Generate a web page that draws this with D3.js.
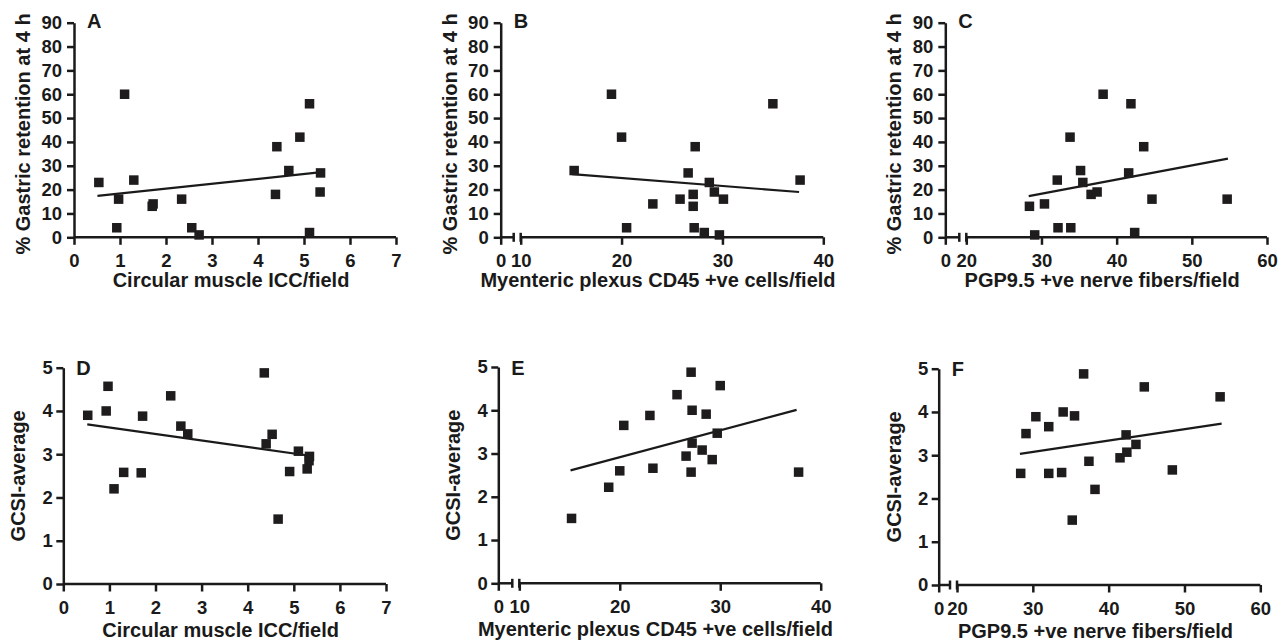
<!DOCTYPE html>
<html>
<head>
<meta charset="utf-8">
<script src="https://cdn.jsdelivr.net/npm/d3@7"></script>
<style>
  body { margin: 0; background: #fff; }
  svg { display: block; }
  text { font-family: "Liberation Sans", Arial, sans-serif; font-weight: bold; fill: #1a1a1a; }
  .axis text { font-size: 18.5px; }
  .axis path, .axis line { stroke: #1a1a1a; stroke-width: 2.5; }
</style>
</head>
<body>
<svg id="chart" width="1287" height="641"></svg>
<script>
// tick labels
const iccTicks = [0, 1, 2, 3, 4, 5, 6, 7];
const cd45Ticks = [0, 10, 20, 30, 40];
const pgpTicks = [0, 20, 30, 40, 50, 60];
const retentionTicks = [0, 10, 20, 30, 40, 50, 60, 70, 80, 90];
const gcsiTicks = [0, 1, 2, 3, 4, 5];

// A: circular muscle ICC/field vs % gastric retention at 4 h
const retentionVsIcc = [
  [0.54, 23], [1.1, 60], [0.97, 16], [0.93, 4], [1.3, 24], [1.72, 14], [1.70, 13],
  [2.34, 16], [2.56, 4], [2.72, 1], [4.41, 38], [4.38, 18], [4.67, 28], [4.91, 42],
  [5.12, 56], [5.12, 2], [5.36, 27], [5.35, 19]
];
const fitA = [[0.51, 17.4], [5.43, 27.4]];

// B: myenteric plexus CD45 +ve cells/field vs retention
const retentionVsCd45 = [
  [15.3, 28], [19.0, 60], [20.0, 42], [20.5, 4], [23.1, 14], [25.8, 16], [26.6, 27],
  [27.3, 38], [27.1, 18], [27.1, 13], [27.2, 4], [28.2, 2], [28.7, 23], [29.2, 19],
  [29.7, 1], [30.1, 16], [35.0, 56], [37.7, 24]
];
const fitB = [[15.1, 26.5], [37.6, 19]];

// C: PGP9.5 +ve nerve fibers/field vs retention
const retentionVsPgp = [
  [28.4, 13], [29.1, 1], [30.4, 14], [32.1, 24], [32.2, 4], [33.9, 4], [33.8, 42],
  [35.2, 28], [35.5, 23], [36.6, 18], [37.4, 19], [38.2, 60], [41.6, 27], [41.9, 56],
  [42.4, 2], [43.6, 38], [44.7, 16], [54.7, 16]
];
const fitC = [[28.3, 17.3], [54.8, 33]];

// D: circular muscle ICC/field vs GCSI
const gcsiVsIcc = [
  [0.53, 3.9], [0.93, 4.0], [0.97, 4.57], [1.1, 2.2], [1.31, 2.58], [1.72, 3.88],
  [1.69, 2.57], [2.33, 4.35], [2.55, 3.65], [2.7, 3.47], [4.36, 4.88], [4.4, 3.24],
  [4.53, 3.46], [4.66, 1.5], [4.91, 2.6], [5.1, 3.07], [5.29, 2.66], [5.34, 2.95],
  [5.33, 2.85]
];
const fitD = [[0.52, 3.69], [5.31, 2.97]];

// E: CD45 +ve cells/field vs GCSI
const gcsiVsCd45 = [
  [15.2, 1.5], [18.9, 2.22], [20.0, 2.6], [20.4, 3.65], [23.0, 3.88], [23.3, 2.66],
  [25.7, 4.36], [27.1, 4.88], [27.2, 4.0], [26.6, 2.94], [27.1, 2.57], [27.2, 3.24],
  [28.2, 3.08], [28.6, 3.91], [29.2, 2.86], [29.7, 3.47], [30.0, 4.57], [37.8, 2.57]
];
const fitE = [[15.1, 2.61], [37.6, 4.01]];

// F: PGP9.5 +ve nerve fibers/field vs GCSI
const gcsiVsPgp = [
  [28.4, 2.58], [29.1, 3.5], [30.4, 3.89], [32.1, 3.66], [32.1, 2.58], [34.0, 4.0],
  [33.8, 2.6], [35.5, 3.91], [35.2, 1.5], [36.7, 4.88], [37.4, 2.86], [38.2, 2.21],
  [41.5, 2.94], [42.3, 3.47], [42.4, 3.07], [43.6, 3.25], [44.7, 4.58], [48.4, 2.66],
  [54.7, 4.35]
];
const fitF = [[28.3, 3.03], [54.9, 3.73]];

const panels = [
  { letter: "A", data: retentionVsIcc, fit: fitA, xTicks: iccTicks, yTicks: retentionTicks,
    xTitle: "Circular muscle ICC/field", yTitle: "% Gastric retention at 4 h",
    left: 74, right: 396, top: 22.7, bottom: 237.3 },
  { letter: "B", data: retentionVsCd45, fit: fitB, xTicks: cd45Ticks, yTicks: retentionTicks,
    xTitle: "Myenteric plexus CD45 +ve cells/field", yTitle: "% Gastric retention at 4 h",
    left: 500.7, brkPx: 520.7, right: 823.3, top: 22.7, bottom: 237.3 },
  { letter: "C", data: retentionVsPgp, fit: fitC, xTicks: pgpTicks, yTicks: retentionTicks,
    xTitle: "PGP9.5 +ve nerve fibers/field", yTitle: "% Gastric retention at 4 h",
    left: 945.3, brkPx: 966.3, right: 1267, top: 22.7, bottom: 237.3 },
  { letter: "D", data: gcsiVsIcc, fit: fitD, xTicks: iccTicks, yTicks: gcsiTicks,
    xTitle: "Circular muscle ICC/field", yTitle: "GCSI-average",
    left: 63.3, right: 386, top: 367.7, bottom: 584 },
  { letter: "E", data: gcsiVsCd45, fit: fitE, xTicks: cd45Ticks, yTicks: gcsiTicks,
    xTitle: "Myenteric plexus CD45 +ve cells/field", yTitle: "GCSI-average",
    left: 498.3, brkPx: 519.3, right: 820.7, top: 367, bottom: 583.3 },
  { letter: "F", data: gcsiVsPgp, fit: fitF, xTicks: pgpTicks, yTicks: gcsiTicks,
    xTitle: "PGP9.5 +ve nerve fibers/field", yTitle: "GCSI-average",
    left: 938.7, brkPx: 957, right: 1260.3, top: 368.7, bottom: 585 }
];

const svg = d3.select("#chart");
const ink = "#1a1a1a";
const fmt = d3.format("d");

panels.forEach((p, i) => {
  const topRow = i < 3;
  const xMax = p.xTicks[p.xTicks.length - 1];
  const yMax = p.yTicks[p.yTicks.length - 1];
  const brk = p.brkPx ? p.xTicks[1] : null;

  // broken axes get a piecewise scale: 0 sits on the y axis, then the break
  const x = brk
    ? d3.scaleLinear().domain([0, brk, xMax]).range([p.left, p.brkPx, p.right])
    : d3.scaleLinear().domain([0, xMax]).range([p.left, p.right]);
  const y = d3.scaleLinear().domain([0, yMax]).range([p.bottom, p.top]);

  const g = svg.append("g");

  // x axis
  const xAxis = g.append("g")
    .attr("class", "axis")
    .attr("transform", "translate(0," + p.bottom + ")")
    .call(d3.axisBottom(x).tickValues(p.xTicks).tickFormat(fmt)
      .tickSize(7.5).tickPadding(9.5).tickSizeOuter(0));
  xAxis.select(".domain").remove();

  const segs = brk
    ? [[x(0), x(brk) - 7], [x(brk), x(xMax)]]
    : [[x(0), x(xMax)]];
  segs.forEach(s => {
    xAxis.append("line").attr("x1", s[0]).attr("x2", s[1]).attr("y1", 0).attr("y2", 0);
  });
  if (brk) {
    [x(brk) - 7, x(brk)].forEach(bx => {
      xAxis.append("line").attr("x1", bx).attr("x2", bx).attr("y1", -4.5).attr("y2", 4.5);
    });
  }

  // y axis
  g.append("g")
    .attr("class", "axis")
    .attr("transform", "translate(" + p.left + ",0)")
    .call(d3.axisLeft(y).tickValues(p.yTicks).tickFormat(fmt)
      .tickSize(7).tickPadding(topRow ? 5 : 3.5).tickSizeOuter(0));

  // regression line
  g.append("line")
    .attr("x1", x(p.fit[0][0])).attr("y1", y(p.fit[0][1]))
    .attr("x2", x(p.fit[1][0])).attr("y2", y(p.fit[1][1]))
    .attr("stroke", ink).attr("stroke-width", 2.2);

  // points
  const s = 9.5;
  g.selectAll("rect.pt")
    .data(p.data)
    .enter()
    .append("rect")
    .attr("class", "pt")
    .attr("x", d => x(d[0]) - s / 2)
    .attr("y", d => y(d[1]) - s / 2)
    .attr("width", s)
    .attr("height", s)
    .attr("fill", "#1e1c1d");

  // panel letter
  g.append("text")
    .attr("x", p.left + 13)
    .attr("y", p.top + (topRow ? 4.8 : 7.5))
    .attr("font-size", 20)
    .text(p.letter);

  // axis titles
  g.append("text")
    .attr("x", (p.left + p.right) / 2 - 4)
    .attr("y", p.bottom + (topRow ? 49.5 : 53))
    .attr("text-anchor", "middle")
    .attr("font-size", 20)
    .text(p.xTitle);

  const yc = (p.top + p.bottom) / 2 + (topRow ? 4 : 0);
  const yx = p.left - (topRow ? 44 : 38);
  g.append("text")
    .attr("transform", "translate(" + yx + "," + yc + ") rotate(-90)")
    .attr("text-anchor", "middle")
    .attr("font-size", 20)
    .text(p.yTitle);
});
</script>
</body>
</html>
